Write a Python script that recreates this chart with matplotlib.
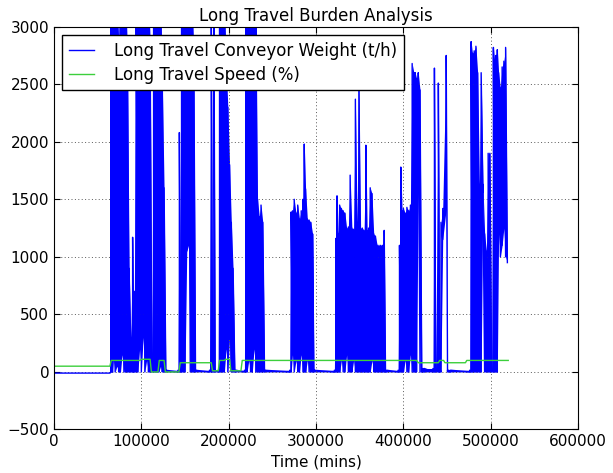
import matplotlib
matplotlib.use("Agg")
import numpy as np
import matplotlib.pyplot as plt

# conveyor weight (t/h): per time bin, the low and high of the trace
weight_t = [0, 64000,
            65000, 66000, 67000, 68000, 70000, 72000, 74000, 76000, 78000, 80000,
            82000, 84000, 86000, 88000, 90000, 91000, 92000, 94000, 96000, 98000,
            100000, 102000, 104000, 106000, 108000, 110000, 112000, 114000, 116000,
            118000, 120000, 122000, 124000, 126000, 128000, 142000, 143500, 145000,
            146000, 148000, 150000, 152000, 154000, 156000, 158000, 160000, 162000,
            178000, 180000, 181500, 183000, 184500, 188000, 189500, 191000, 193000,
            195000, 197000, 199000, 201000, 203000, 205000, 207000, 208500, 218000,
            219500, 221000, 223000, 225000, 227000, 229000, 231000, 233000, 235000,
            237000, 239000, 241000, 270000,
            271500, 273000, 275000, 277000, 279000, 281000, 283000, 285000, 286500,
            288000, 290000, 292000, 294000, 296000, 297500, 321000,
            322500, 324000, 325500, 327000, 329000, 331000, 333000, 335000, 337000,
            339000, 341000, 343000, 345000, 347000, 349000, 351000, 353000, 355000,
            357000, 358500, 360000, 362000, 364000, 366000, 368000, 370000, 372000,
            374000, 376000, 378000, 379500, 381000, 394000,
            395500, 397000, 398500, 400000, 402000, 404000, 406000, 408000, 410000,
            412000, 413500, 415000, 417000, 419000, 421000, 422500, 424000, 434000,
            435500, 437000, 440000, 441500, 443000, 445000, 449000, 450500, 452000,
            454000, 476000,
            477500, 479000, 481000, 483000, 485000, 487000, 489000, 491000, 493000,
            495000, 497000, 499000, 501000, 503000, 504500, 506000, 507500, 509000,
            511000, 513000, 515000, 517000, 519000]
weight_lo = [-10, -10,
             0, 0, 0, 100, 0, 50, 0, 0, 150, 0,
             0, 0, 0, 0, 0, 0, 0, 0, 0, 200,
             0, 300, 0, 100, 0, 0, 0, 0, 0,
             0, 0, 50, 0, 0, 0, 0, 0, 0,
             0, 0, 0, 1050, 1100, 0, 0, 0, 0,
             0, 0, 0, 0, 0, 0, 0, 0, 0,
             0, 200, 0, 300, 0, 0, 0, 0, 0,
             0, 0, 100, 0, 0, 200, 0, 0, 0,
             0, 0, 0, 0,
             0, 150, 0, 100, 0, 0, 150, 0, 0,
             0, 100, 0, 0, 0, 0, 0,
             0, 0, 0, 0, 100, 0, 0, 150, 0,
             0, 0, 100, 0, 0, 0, 0, 0, 0,
             0, 0, 0, 0, 100, 0, 0, 0, 0,
             0, 0, 0, 0, 0, 0,
             0, 0, 0, 0, 100, 0, 0, 150, 0,
             0, 0, 0, 1560, 0, 0, 0, 0, 0,
             0, 0, 0, 0, 0, 1150, 1420, 0, 0,
             0, 0,
             0, 0, 0, 0, 0, 0, 0, 1560, 0,
             0, 0, 0, 0, 0, 0, 0, 0, 1200,
             1000, 1100, 1250, 1000, 950]
weight_hi = [-10, -10,
             3300, 40, 3300, 3300, 3300, 3300, 2900, 3300, 3300, 3300,
             3300, 2800, 900, 300, 1170, 200, 700, 3300, 3300, 3300,
             3300, 3300, 3300, 3300, 3300, 2900, 150, 3300, 3300,
             3300, 3300, 3300, 2500, 1600, 15, 15, 2080, 15,
             3300, 3300, 3300, 3300, 3300, 3300, 3300, 2800, 15,
             15, 3300, 15, 3300, 15, 15, 3300, 3300, 3300,
             3300, 2700, 2300, 1800, 1300, 900, 15, 15, 15,
             3300, 3300, 3300, 3300, 3300, 3300, 3300, 1500, 1350,
             1450, 1300, 15, 15,
             1390, 1400, 1500, 1380, 1450, 1330, 1400, 1500, 1980,
             1590, 1330, 1320, 1300, 1200, 15, 15,
             1160, 1530, 1200, 1450, 1420, 1400, 1380, 1250, 1260,
             1710, 1250, 1240, 2370, 1300, 2600, 1250, 1250, 1230,
             1970, 1230, 1250, 1600, 1550, 1200, 1180, 1100, 1100,
             1100, 1100, 1230, 15, 15, 15,
             1100, 1780, 1400, 1420, 1380, 1430, 1400, 1450, 2680,
             2600, 2600, 2550, 2600, 2450, 30, 30, 30, 30,
             2640, 30, 2510, 30, 1300, 1420, 2750, 15, 15,
             15, 15,
             2870, 2770, 2790, 2830, 2600, 1630, 2600, 1630, 1200,
             1050, 1900, 1900, 15, 2820, 2700, 2750, 2800, 2600,
             2470, 2650, 2700, 2820, 950]

# long travel speed (%)
speed_t = [0, 64000, 65500, 98500, 100000, 110000, 111500, 119000, 120500, 126000,
           127500, 143000, 144500, 180000, 181500, 188000, 189500, 195000, 196500,
           201000, 202500, 214000, 215500, 415000, 417000, 440000, 441500, 446000,
           447500, 471000, 472500, 520000]
speed_v = [50, 50, 100, 100, 110, 110, 0, 0, 100, 100,
           0, 0, 80, 80, 10, 10, 100, 100, 110,
           110, 10, 10, 100, 100, 80, 80, 100, 100,
           80, 80, 100, 100]

wt = np.asarray(weight_t, dtype=float)
lo = np.asarray(weight_lo, dtype=float)
hi = np.asarray(weight_hi, dtype=float)
# trace each bin as a low-to-high stroke, and shade the band it sweeps
zx = np.repeat(wt, 2)
zy = np.column_stack([lo, hi]).ravel()

fig = plt.figure(figsize=(6.13, 4.73), dpi=100)
ax = fig.add_axes([0.0881, 0.092, 0.855, 0.8516])
ax.fill_between(wt, lo, hi, color="b", linewidth=0)
ax.plot(zx, zy, color="b", linewidth=1, label="Long Travel Conveyor Weight (t/h)")
ax.plot(speed_t, speed_v, color="#3ccf3c", linewidth=1, label="Long Travel Speed (%)")

ax.set_xlim(0, 600000)
ax.set_ylim(-500, 3000)
ax.set_xticks(range(0, 600001, 100000))
ax.set_yticks(range(-500, 3001, 500))
ax.ticklabel_format(style="plain", useOffset=False)
ax.grid(True, color="0.35", linestyle=(0, (1, 2.5)), linewidth=0.7)
ax.tick_params(direction="in", top=True, right=True, length=4.5, labelsize=11)
ax.set_title("Long Travel Burden Analysis", fontsize=12, pad=4)
ax.set_xlabel("Time (mins)", fontsize=11)
leg = ax.legend(loc="upper left", fontsize=12, fancybox=False, framealpha=1,
                edgecolor="k", borderaxespad=0.5, handlelength=1.5,
                handletextpad=1.2, labelspacing=0.35)
leg.get_frame().set_linewidth(1)

fig.savefig("out.png", dpi=100)
